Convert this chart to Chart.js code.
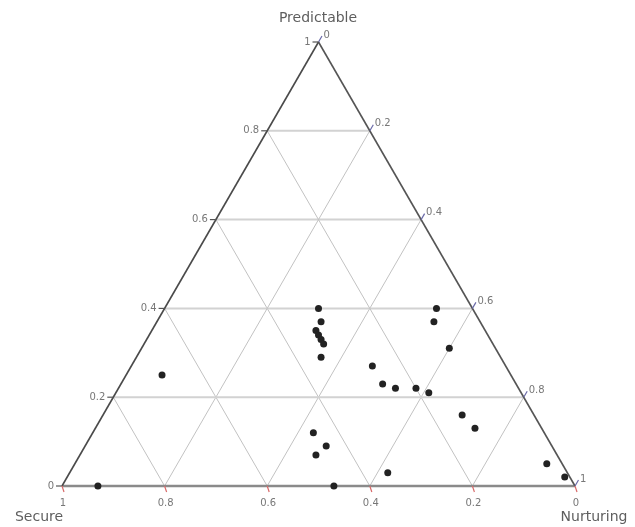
<!DOCTYPE html>
<html>
<head>
<meta charset="utf-8">
<script src="https://cdn.jsdelivr.net/npm/chart.js@4"></script>
<style>
  html, body { margin: 0; padding: 0; background: #fff; }
  #wrap { width: 635px; height: 527px; }
</style>
</head>
<body>
<div id="wrap"><canvas id="myChart"></canvas></div>
<script>
// ternary values (each row sums to 1)
const predictable = [0.40, 0.37, 0.35, 0.34, 0.33, 0.32, 0.29, 0.40, 0.37, 0.31, 0.27, 0.23, 0.22,
                     0.22, 0.21, 0.25, 0.16, 0.13, 0.12, 0.09, 0.07, 0.03, 0.00, 0.00, 0.05, 0.02]
const nurturing   = [0.30, 0.32, 0.32, 0.33, 0.34, 0.35, 0.36, 0.53, 0.54, 0.60, 0.47, 0.51, 0.54,
                     0.58, 0.61, 0.07, 0.70, 0.74, 0.43, 0.47, 0.46, 0.62, 0.53, 0.07, 0.92, 0.97]
const secure      = [0.30, 0.31, 0.33, 0.33, 0.33, 0.33, 0.35, 0.07, 0.09, 0.09, 0.26, 0.26, 0.24,
                     0.20, 0.18, 0.68, 0.14, 0.13, 0.45, 0.44, 0.47, 0.35, 0.47, 0.93, 0.03, 0.01]
const tickValues = [0, 0.2, 0.4, 0.6, 0.8, 1]
const tickLabels = ['0', '0.2', '0.4', '0.6', '0.8', '1']
const axisTitles = ['Predictable', 'Secure', 'Nurturing']

const H = Math.sqrt(3) / 2
// predictable at top, secure bottom-left, nurturing bottom-right
const toXY = (p, n) => ({ x: n + p / 2, y: p * H })

const points = predictable.map((p, i) => toXY(p, nurturing[i]))

// grid lines for the inner ticks
let grid = []
tickValues.slice(1, -1).forEach(t => {
  grid.push([toXY(t, 0), toXY(t, 1 - t)])          // predictable = t
  grid.push([toXY(0, t), toXY(1 - t, t)])          // nurturing = t
  grid.push([toXY(0, 1 - t), toXY(1 - t, 0)])      // secure = t
})

const lineSet = (data, color, width, order) => ({
  type: 'scatter', data, showLine: true, borderColor: color, borderWidth: width,
  pointRadius: 0, clip: false, order
})

let datasets = [
  {
    type: 'scatter', data: points, pointRadius: 3.5, pointBackgroundColor: '#222',
    pointBorderColor: '#222', pointBorderWidth: 0, clip: false, order: 0
  },
  lineSet([toXY(0, 0), toXY(1, 0)], '#4a4a4a', 1.6, 1),
  lineSet([toXY(1, 0), toXY(0, 1)], '#555', 1.6, 1),
  lineSet([toXY(0, 0), toXY(0, 1)], '#8a8a8a', 2.6, 1)
]
grid.forEach((seg, i) => {
  datasets.push(lineSet(seg, i % 3 == 0 ? '#d2d2d2' : '#c2c2c2', i % 3 == 0 ? 2 : 1, 2))
})

const ternaryAxes = {
  id: 'ternaryAxes',
  afterDraw(chart) {
    const { ctx, scales: { x, y } } = chart
    const px = pt => [x.getPixelForValue(pt.x), y.getPixelForValue(pt.y)]
    const seg = (x1, y1, x2, y2, c) => {
      ctx.strokeStyle = c
      ctx.lineWidth = 1.2
      ctx.beginPath(); ctx.moveTo(x1, y1); ctx.lineTo(x2, y2); ctx.stroke()
    }
    const text = (s, tx, ty, align) => {
      ctx.textAlign = align
      ctx.textBaseline = 'middle'
      ctx.fillText(s, tx, ty)
    }
    ctx.save()
    ctx.font = '10px "DejaVu Sans"'
    ctx.fillStyle = '#777'
    tickValues.forEach((t, i) => {
      // left axis: predictable
      let [ax, ay] = px(toXY(t, 0))
      seg(ax, ay, ax - 6, ay, '#555')
      text(tickLabels[i], ax - 8, ay, 'right')
      // right axis: nurturing
      let [bx, by] = px(toXY(1 - t, t))
      seg(bx, by, bx + 3.5, by - 6, '#6a6aa8')
      text(tickLabels[i], bx + 5, by - 7, 'left')
      // bottom axis: secure
      let [cx, cy] = px(toXY(0, 1 - t))
      seg(cx, cy, cx + 2, cy + 6, '#d86a6a')
      text(tickLabels[i], cx + 1, cy + 17, 'center')
    })
    ctx.font = '14px "DejaVu Sans"'
    ctx.fillStyle = '#5e5e5e'
    text(axisTitles[0], 318, 18, 'center')
    text(axisTitles[1], 39, 517, 'center')
    text(axisTitles[2], 594, 517, 'center')
    ctx.restore()
  }
}

const chartCtx = document.getElementById('myChart')

new Chart(chartCtx, {
  type: 'scatter',
  data: { datasets },
  options: {
    responsive: true,
    maintainAspectRatio: false,
    animation: false,
    events: [],
    layout: { padding: { left: 62, right: 60, top: 42, bottom: 41 } },
    plugins: { legend: { display: false }, tooltip: { enabled: false } },
    scales: {
      x: { type: 'linear', min: 0, max: 1, display: false },
      y: { type: 'linear', min: 0, max: H, display: false }
    }
  },
  plugins: [ternaryAxes]
})
</script>
</body>
</html>
